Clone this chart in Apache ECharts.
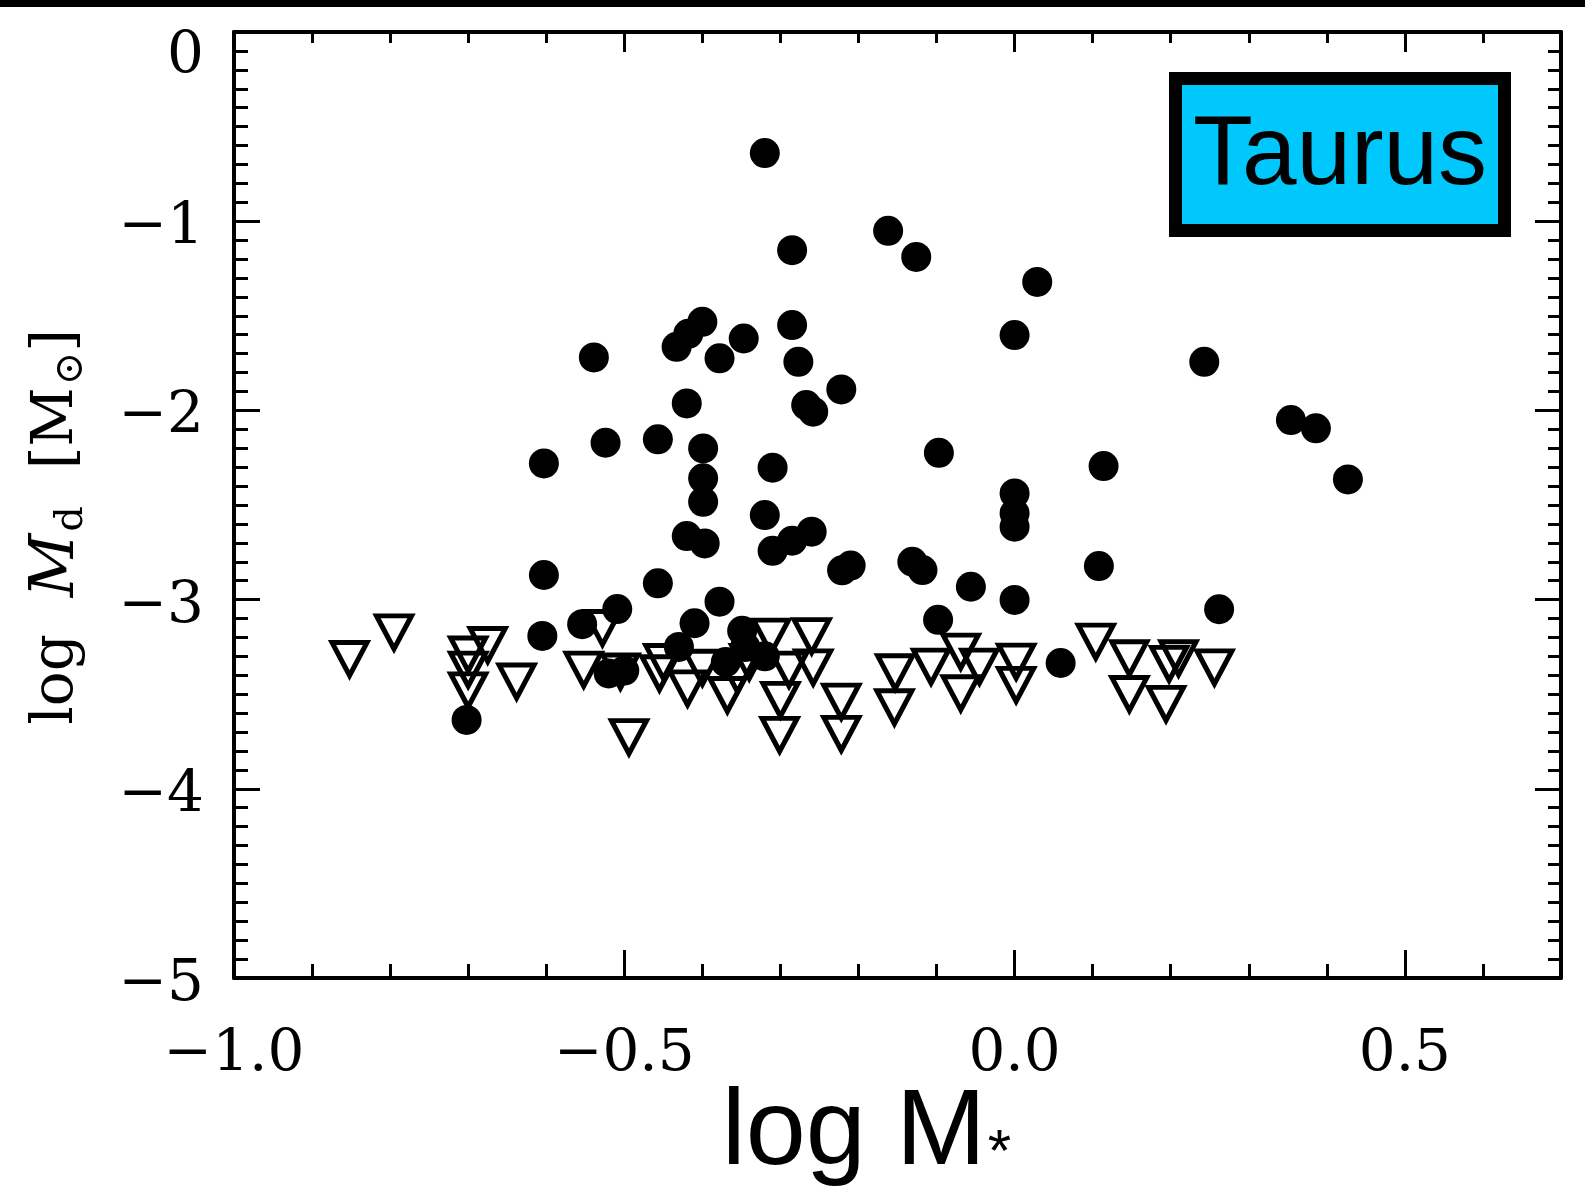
<!DOCTYPE html>
<html>
<head>
<meta charset="utf-8">
<script src="https://cdn.jsdelivr.net/npm/echarts@6/dist/echarts.min.js"></script>
<style>
html,body{margin:0;padding:0;background:#fff;}
#chart{width:1585px;height:1199px;}
</style>
</head>
<body>
<div id="chart"></div>
<script>
// Detections (filled circles): log M* and log Md
const circleX = [-0.320,-0.285,-0.162,-0.126,-0.400,-0.418,-0.433,-0.378,-0.347,-0.285,-0.277,-0.539,-0.222,-0.267,-0.258,-0.420,-0.524,-0.457,-0.603,-0.399,-0.399,-0.399,-0.310,-0.097,-0.320,-0.420,-0.397,-0.310,-0.285,-0.260,-0.221,-0.210,-0.131,-0.118,-0.603,-0.457,-0.056,-0.378,0.029,0.000,0.243,0.354,0.386,0.427,0.114,0.000,0.000,0.000,0.108,0.000,0.262,-0.098,0.059,-0.605,-0.554,-0.509,-0.702,-0.410,-0.349,-0.520,-0.500,-0.430,-0.345,-0.370,-0.320];
const circleY = [-0.640,-1.153,-1.051,-1.189,-1.532,-1.595,-1.664,-1.725,-1.620,-1.549,-1.743,-1.720,-1.889,-1.972,-2.007,-1.963,-2.171,-2.153,-2.280,-2.201,-2.359,-2.483,-2.303,-2.224,-2.553,-2.664,-2.703,-2.742,-2.689,-2.641,-2.845,-2.820,-2.800,-2.844,-2.870,-2.914,-2.932,-3.011,-1.321,-1.602,-1.743,-2.051,-2.095,-2.365,-2.294,-2.439,-2.544,-2.615,-2.823,-3.002,-3.051,-3.107,-3.335,-3.192,-3.130,-3.050,-3.636,-3.125,-3.165,-3.390,-3.375,-3.250,-3.250,-3.330,-3.300];
// Upper limits (open downward triangles)
const triX = [-0.852,-0.795,-0.700,-0.675,-0.700,-0.700,-0.638,-0.552,-0.528,-0.494,-0.505,-0.455,-0.450,-0.419,-0.400,-0.368,-0.355,-0.340,-0.312,-0.260,-0.258,-0.289,-0.300,-0.301,-0.222,-0.222,-0.153,-0.154,-0.107,-0.069,-0.069,-0.045,0.002,0.002,0.104,0.147,0.147,0.210,0.198,0.194,0.256];
const triY = [-3.314,-3.173,-3.290,-3.240,-3.370,-3.480,-3.433,-3.370,-3.150,-3.727,-3.380,-3.389,-3.330,-3.469,-3.360,-3.504,-3.400,-3.330,-3.196,-3.193,-3.358,-3.370,-3.530,-3.715,-3.539,-3.710,-3.384,-3.569,-3.354,-3.275,-3.495,-3.354,-3.328,-3.451,-3.222,-3.310,-3.499,-3.310,-3.340,-3.551,-3.358];
// Axis ranges / ticks
const xMin = -1.0, xMax = 0.7, xMajor = 0.5, xMinor = 0.1;
const yMin = -5, yMax = 0, yMajor = 1;
const xTitle = 'log M';
const boxLabel = 'Taurus';

const circles = circleX.map((x, i) => [x, circleY[i]]);
const tris = triX.map((x, i) => [x, triY[i]]);

const serif = '"DejaVu Serif", "Liberation Serif", serif';
const sans = '"Liberation Sans", Arial, sans-serif';
const minus = s => String(s).replace('-', '\u2212');

const chart = echarts.init(document.getElementById('chart'), null, {renderer: 'canvas'});
const lineStyle = {color: '#000', width: 4};
const tickStyle = {color: '#000', width: 3};

const option = {
  backgroundColor: '#fff',
  animation: false,
  grid: {left: 234, right: 24, top: 32, bottom: 221, containLabel: false, outerBoundsMode: 'none'},
  xAxis: [
    {
      type: 'value', position: 'bottom', min: xMin, max: xMax, interval: xMajor,
      axisLine: {show: true, lineStyle: lineStyle, onZero: false},
      axisTick: {show: true, inside: true, length: 28, lineStyle: tickStyle},
      splitLine: {show: false},
      axisLabel: {
        show: true, margin: 48, showMaxLabel: false,
        color: '#000', fontFamily: serif, fontSize: 58,
        formatter: v => minus(v.toFixed(1))
      },
      name: '{a|' + xTitle + '}{b|*}',
      nameLocation: 'middle', nameGap: 102, nameMoveOverlap: false,
      nameTextStyle: {
        padding: [0, 62, 0, 0],
        rich: {
          a: {fontFamily: sans, fontSize: 108, color: '#000'},
          b: {fontFamily: sans, fontSize: 60, color: '#000', padding: [40, 0, 0, 2]}
        }
      }
    },
    {
      type: 'value', position: 'bottom', min: xMin, max: xMax, interval: xMinor,
      axisLine: {show: false, onZero: false},
      axisTick: {show: true, inside: true, length: 14, lineStyle: tickStyle},
      axisLabel: {show: false}, splitLine: {show: false}
    },
    {
      type: 'value', position: 'top', min: xMin, max: xMax, interval: xMajor,
      axisLine: {show: true, lineStyle: lineStyle, onZero: false},
      axisTick: {show: true, inside: true, length: 20, lineStyle: tickStyle},
      axisLabel: {show: false}, splitLine: {show: false}
    },
    {
      type: 'value', position: 'top', min: xMin, max: xMax, interval: xMinor,
      axisLine: {show: false, onZero: false},
      axisTick: {show: true, inside: true, length: 11, lineStyle: tickStyle},
      axisLabel: {show: false}, splitLine: {show: false}
    }
  ],
  yAxis: [
    {
      type: 'value', position: 'left', min: yMin, max: yMax, interval: yMajor,
      axisLine: {show: true, lineStyle: lineStyle, onZero: false},
      axisTick: {show: true, inside: true, length: 26, lineStyle: tickStyle},
      minorTick: {show: true, splitNumber: 10, length: 14, lineStyle: tickStyle},
      splitLine: {show: false},
      axisLabel: {
        show: true, margin: 30, color: '#000', fontFamily: serif, fontSize: 58,
        formatter: v => v === 0 ? '{z|0}' : '{v|' + minus(v) + '}',
        rich: {
          v: {fontFamily: serif, fontSize: 58, color: '#000', padding: [14, 0, 0, 0]},
          z: {fontFamily: serif, fontSize: 58, color: '#000', padding: [50, 0, 0, 0]}
        }
      },
      name: '{n|log  }{i|M}{s|d}{n|  [M}{s|\u2299}{n|]}',
      nameLocation: 'middle', nameRotate: 90, nameGap: 142, nameMoveOverlap: false,
      nameTextStyle: {
        padding: [0, 44, 0, 0],
        rich: {
          n: {fontFamily: serif, fontSize: 58, color: '#000'},
          i: {fontFamily: serif, fontSize: 62, fontStyle: 'italic', color: '#000'},
          s: {fontFamily: serif, fontSize: 40, color: '#000', padding: [30, 0, 0, 2]}
        }
      }
    },
    {
      type: 'value', position: 'right', min: yMin, max: yMax, interval: yMajor,
      axisLine: {show: true, lineStyle: lineStyle, onZero: false},
      axisTick: {show: true, inside: true, length: 26, lineStyle: tickStyle},
      minorTick: {show: true, splitNumber: 10, length: 13, lineStyle: tickStyle},
      axisLabel: {show: false}, splitLine: {show: false}
    }
  ],
  series: [
    {
      name: 'detections', type: 'scatter', xAxisIndex: 0, yAxisIndex: 0,
      data: circles, symbol: 'circle', symbolSize: 30,
      itemStyle: {color: '#000', opacity: 1}, z: 2
    },
    {
      name: 'upper limits', type: 'scatter', xAxisIndex: 0, yAxisIndex: 0,
      data: tris, symbol: 'triangle', symbolRotate: 180, symbolSize: [35, 33],
      itemStyle: {color: 'rgba(0,0,0,0)', borderColor: '#000', borderWidth: 5, opacity: 1}, z: 3
    }
  ],
  graphic: [
    {type: 'rect', left: 0, top: 0, shape: {width: 1585, height: 7}, style: {fill: '#000'}, z: 10},
    {
      type: 'group', z: 10,
      children: [
        {type: 'rect', shape: {x: 1175.5, y: 78.5, width: 329, height: 152}, style: {fill: '#00C7FC', stroke: '#000', lineWidth: 13}},
        {type: 'text', style: {text: boxLabel, x: 1340, y: 157, fontFamily: sans, fontSize: 98, fill: '#000', align: 'center', verticalAlign: 'middle'}}
      ]
    }
  ]
};
chart.setOption(option);
</script>
</body>
</html>
